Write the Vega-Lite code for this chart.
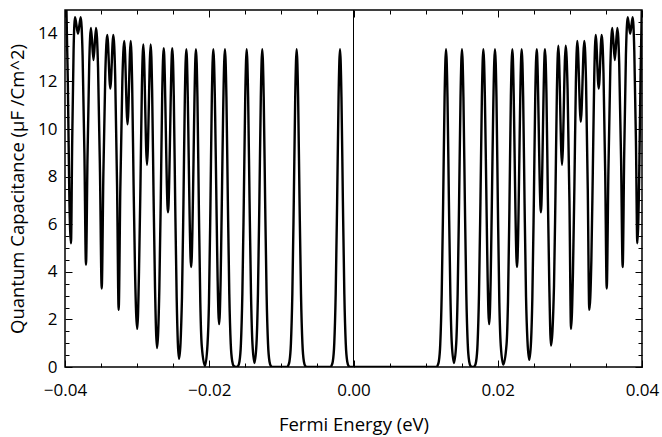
{
  "$schema": "https://vega.github.io/schema/vega-lite/v6.json",
  "width": 577,
  "height": 357,
  "autosize": {"type": "none"},
  "padding": {"left": 65, "top": 10, "right": 20, "bottom": 70},
  "background": "white",
  "config": {
    "view": {"stroke": "black", "strokeWidth": 1.5},
    "axis": {
      "grid": false, "domain": false, "tickColor": "black", "tickWidth": 1,
      "labelColor": "black", "titleColor": "black",
      "labelFont": "Open Sans", "titleFont": "Open Sans",
      "labelFontSize": 17, "titleFontSize": 18.5, "titleFontWeight": "normal",
      "labelFlush": false, "labelOverlap": false
    }
  },
  "data": {"values": [
    {"E":-0.0400,"C":15.8},{"E":-0.0398,"C":15.0},{"E":-0.0396,"C":11.8},{"E":-0.0394,"C":7.2},{"E":-0.03917,"C":5.2},
    {"E":-0.0390,"C":9.5},{"E":-0.03881,"C":13.3},{"E":-0.03861,"C":14.7},{"E":-0.0382,"C":14.0},{"E":-0.03782,"C":14.7},
    {"E":-0.03756,"C":13.1},{"E":-0.03731,"C":9.0},{"E":-0.03709,"C":4.3},
    {"E":-0.03688,"C":8.8},{"E":-0.03664,"C":12.76},{"E":-0.0364,"C":14.25},{"E":-0.03605,"C":12.9},{"E":-0.0357,"C":14.25},
    {"E":-0.03542,"C":12.6},{"E":-0.03515,"C":8.2},{"E":-0.03491,"C":3.3},
    {"E":-0.03468,"C":8.1},{"E":-0.03441,"C":12.35},{"E":-0.03414,"C":13.95},{"E":-0.03372,"C":11.7},{"E":-0.0333,"C":13.95},
    {"E":-0.03304,"C":12.2},{"E":-0.03278,"C":7.6},{"E":-0.03256,"C":2.4},
    {"E":-0.03233,"C":7.5},{"E":-0.03205,"C":12.0},{"E":-0.03178,"C":13.7},{"E":-0.03133,"C":10.2},{"E":-0.03089,"C":13.7},
    {"E":-0.03069,"C":11.9},{"E":-0.03049,"C":7.65},{"E":-0.03029,"C":4.0},{"E":-0.02998,"C":1.6},
    {"E":-0.02974,"C":4.0},{"E":-0.02954,"C":7.6},{"E":-0.02934,"C":11.76},{"E":-0.02914,"C":13.55},{"E":-0.02863,"C":8.5},{"E":-0.02812,"C":13.55},
    {"E":-0.02792,"C":11.64},{"E":-0.02772,"C":7.2},{"E":-0.02752,"C":3.35},{"E":-0.02724,"C":0.8},
    {"E":-0.02692,"C":3.3},{"E":-0.02672,"C":7.1},{"E":-0.02652,"C":11.5},{"E":-0.02632,"C":13.4},{"E":-0.02572,"C":6.5},{"E":-0.02512,"C":13.4},
    {"E":-0.02492,"C":11.44},{"E":-0.02472,"C":6.87},{"E":-0.02452,"C":2.95},{"E":-0.02419,"C":0.34},
    {"E":-0.02378,"C":2.94},{"E":-0.02358,"C":6.84},{"E":-0.02338,"C":11.4},{"E":-0.02318,"C":13.35},{"E":-0.02251,"C":4.2},{"E":-0.02184,"C":13.35},
    {"E":-0.02164,"C":11.36},{"E":-0.02144,"C":6.7},{"E":-0.02124,"C":2.71},{"E":-0.02104,"C":0.9},{"E":-0.02059,"C":0.05},
    {"E":-0.02024,"C":0.95},{"E":-0.02004,"C":2.7},{"E":-0.01984,"C":6.7},{"E":-0.01964,"C":11.36},{"E":-0.01944,"C":13.35},{"E":-0.01863,"C":1.8},{"E":-0.01782,"C":13.35},
    {"E":-0.01762,"C":11.35},{"E":-0.01742,"C":6.95},{"E":-0.01722,"C":3.07},{"E":-0.01702,"C":0.97},{"E":-0.01682,"C":0.25},{"E":-0.01662,"C":0.05},{"E":-0.01631,"C":0.0},
    {"E":-0.01601,"C":0.04},{"E":-0.01581,"C":0.23},{"E":-0.01561,"C":0.97},{"E":-0.01541,"C":3.07},{"E":-0.01521,"C":6.94},{"E":-0.01501,"C":11.35},{"E":-0.01481,"C":13.35},
    {"E":-0.01461,"C":11.35},{"E":-0.01441,"C":6.94},{"E":-0.01421,"C":3.07},{"E":-0.01401,"C":0.98},{"E":-0.01373,"C":0.17},
    {"E":-0.01345,"C":0.98},{"E":-0.01325,"C":3.07},{"E":-0.01305,"C":6.94},{"E":-0.01285,"C":11.35},{"E":-0.01265,"C":13.35},
    {"E":-0.01245,"C":11.35},{"E":-0.01225,"C":6.94},{"E":-0.01205,"C":3.07},{"E":-0.01185,"C":0.97},{"E":-0.01165,"C":0.23},{"E":-0.01145,"C":0.04},{"E":-0.0112,"C":0.0},
    {"E":-0.0092,"C":0.0},{"E":-0.00908,"C":0.04},{"E":-0.00888,"C":0.23},{"E":-0.00868,"C":0.97},{"E":-0.00848,"C":3.07},{"E":-0.00828,"C":6.94},{"E":-0.00808,"C":11.35},{"E":-0.00788,"C":13.35},
    {"E":-0.00768,"C":11.35},{"E":-0.00748,"C":6.94},{"E":-0.00728,"C":3.07},{"E":-0.00708,"C":0.97},{"E":-0.00688,"C":0.23},{"E":-0.00668,"C":0.04},{"E":-0.0064,"C":0.0},
    {"E":-0.0032,"C":0.0},{"E":-0.00307,"C":0.04},{"E":-0.00287,"C":0.23},{"E":-0.00267,"C":0.97},{"E":-0.00247,"C":3.07},{"E":-0.00227,"C":6.94},{"E":-0.00207,"C":11.35},{"E":-0.00187,"C":13.35},
    {"E":-0.00167,"C":11.35},{"E":-0.00147,"C":6.94},{"E":-0.00127,"C":3.07},{"E":-0.00107,"C":0.97},{"E":-0.00087,"C":0.23},{"E":-0.00067,"C":0.04},{"E":-0.0004,"C":0.0},
    {"E":0.0115,"C":0.0},{"E":0.01163,"C":0.04},{"E":0.01183,"C":0.23},{"E":0.01203,"C":0.97},{"E":0.01223,"C":3.07},{"E":0.01243,"C":6.94},{"E":0.01263,"C":11.35},{"E":0.01283,"C":13.35},
    {"E":0.01303,"C":11.35},{"E":0.01323,"C":6.94},{"E":0.01343,"C":3.07},{"E":0.01363,"C":0.98},{"E":0.01393,"C":0.17},
    {"E":0.01424,"C":0.98},{"E":0.01444,"C":3.07},{"E":0.01464,"C":6.94},{"E":0.01484,"C":11.35},{"E":0.01504,"C":13.35},
    {"E":0.01524,"C":11.35},{"E":0.01544,"C":6.94},{"E":0.01564,"C":3.07},{"E":0.01584,"C":0.97},{"E":0.01604,"C":0.23},{"E":0.01624,"C":0.04},{"E":0.01652,"C":0.0},
    {"E":0.0168,"C":0.04},{"E":0.0170,"C":0.23},{"E":0.0172,"C":0.97},{"E":0.0174,"C":3.07},{"E":0.0176,"C":6.94},{"E":0.0178,"C":11.35},{"E":0.0180,"C":13.35},{"E":0.01881,"C":1.8},{"E":0.01962,"C":13.35},
    {"E":0.01982,"C":11.36},{"E":0.02002,"C":6.7},{"E":0.02022,"C":2.7},{"E":0.02042,"C":0.9},{"E":0.02077,"C":0.1},
    {"E":0.02122,"C":0.95},{"E":0.02142,"C":2.75},{"E":0.02162,"C":6.7},{"E":0.02182,"C":11.36},{"E":0.02202,"C":13.35},{"E":0.02267,"C":4.2},{"E":0.02332,"C":13.35},
    {"E":0.02352,"C":11.4},{"E":0.02372,"C":6.85},{"E":0.02392,"C":2.95},{"E":0.02412,"C":1.1},{"E":0.02437,"C":0.3},
    {"E":0.02462,"C":1.1},{"E":0.0248,"C":2.95},{"E":0.0250,"C":6.85},{"E":0.0252,"C":11.4},{"E":0.0254,"C":13.35},{"E":0.02598,"C":6.5},{"E":0.02655,"C":13.35},
    {"E":0.02675,"C":11.5},{"E":0.02695,"C":7.1},{"E":0.02715,"C":3.4},{"E":0.02738,"C":0.9},
    {"E":0.0278,"C":3.4},{"E":0.0280,"C":7.2},{"E":0.0282,"C":11.6},{"E":0.0284,"C":13.5},{"E":0.02891,"C":8.5},{"E":0.02942,"C":13.5},
    {"E":0.02968,"C":11.7},{"E":0.02994,"C":7.0},{"E":0.03016,"C":1.6},
    {"E":0.03043,"C":4.0},{"E":0.03063,"C":7.65},{"E":0.03083,"C":11.9},{"E":0.03103,"C":13.7},{"E":0.03151,"C":10.3},{"E":0.0320,"C":13.7},
    {"E":0.03224,"C":12.0},{"E":0.03248,"C":7.5},{"E":0.03269,"C":2.4},
    {"E":0.03298,"C":4.5},{"E":0.03318,"C":8.2},{"E":0.03338,"C":12.2},{"E":0.03358,"C":13.95},{"E":0.0340,"C":11.7},{"E":0.03441,"C":13.95},
    {"E":0.03466,"C":12.35},{"E":0.0349,"C":8.1},{"E":0.03511,"C":3.3},
    {"E":0.03534,"C":8.2},{"E":0.03561,"C":12.6},{"E":0.03588,"C":14.25},{"E":0.03623,"C":12.9},{"E":0.03658,"C":14.25},
    {"E":0.03684,"C":12.75},{"E":0.0371,"C":8.7},{"E":0.03732,"C":4.2},
    {"E":0.03753,"C":8.9},{"E":0.03777,"C":13.1},{"E":0.03802,"C":14.7},{"E":0.03836,"C":14.0},{"E":0.03871,"C":14.7},
    {"E":0.03893,"C":13.3},{"E":0.03916,"C":9.5},{"E":0.03935,"C":5.2},
    {"E":0.0396,"C":7.8},{"E":0.0398,"C":12.2},{"E":0.0400,"C":15.6}
  ]},
  "layer": [
    {
      "mark": {"type": "line", "color": "black", "strokeWidth": 2.4, "interpolate": "monotone", "clip": true},
      "encoding": {
        "x": {"field": "E", "type": "quantitative",
          "scale": {"domain": [-0.04, 0.04], "nice": false, "zero": false},
          "axis": {"orient": "bottom", "values": [-0.04, -0.02, 0, 0.02, 0.04], "format": ".2f",
            "tickSize": -7, "labelPadding": 22, "title": "Fermi Energy (eV)", "titlePadding": 17}},
        "y": {"field": "C", "type": "quantitative",
          "scale": {"domain": [0, 15], "nice": false, "zero": false},
          "axis": {"orient": "left", "values": [0, 2, 4, 6, 8, 10, 12, 14], "format": "d",
            "tickSize": -7, "labelPadding": 15, "title": "Quantum Capacitance (μF /Cm^2)", "titlePadding": 10}}
      }
    },
    {
      "data": {"values": [{}]},
      "mark": {"type": "point", "opacity": 0},
      "encoding": {
        "x": {"datum": 0, "type": "quantitative",
          "axis": {"orient": "bottom", "values": [-0.035, -0.03, -0.025, -0.015, -0.01, -0.005, 0.005, 0.01, 0.015, 0.025, 0.03, 0.035],
            "tickSize": -4, "labels": false, "title": null}},
        "y": {"datum": 0, "type": "quantitative",
          "axis": {"orient": "left", "values": [0.5, 1, 1.5, 2.5, 3, 3.5, 4.5, 5, 5.5, 6.5, 7, 7.5, 8.5, 9, 9.5, 10.5, 11, 11.5, 12.5, 13, 13.5, 14.5],
            "tickSize": -4, "labels": false, "title": null}}
      }
    },
    {
      "data": {"values": [{}]},
      "mark": {"type": "point", "opacity": 0},
      "encoding": {
        "x": {"datum": 0, "type": "quantitative",
          "axis": {"orient": "top", "values": [-0.04, -0.02, 0, 0.02, 0.04], "tickSize": -7, "labels": false, "title": null}},
        "y": {"datum": 0, "type": "quantitative",
          "axis": {"orient": "right", "values": [0, 2, 4, 6, 8, 10, 12, 14], "tickSize": -7, "labels": false, "title": null}}
      }
    },
    {
      "data": {"values": [{}]},
      "mark": {"type": "point", "opacity": 0},
      "encoding": {
        "x": {"datum": 0, "type": "quantitative",
          "axis": {"orient": "top", "values": [-0.035, -0.03, -0.025, -0.015, -0.01, -0.005, 0.005, 0.01, 0.015, 0.025, 0.03, 0.035],
            "tickSize": -4, "labels": false, "title": null}},
        "y": {"datum": 0, "type": "quantitative",
          "axis": {"orient": "right", "values": [0.5, 1, 1.5, 2.5, 3, 3.5, 4.5, 5, 5.5, 6.5, 7, 7.5, 8.5, 9, 9.5, 10.5, 11, 11.5, 12.5, 13, 13.5, 14.5],
            "tickSize": -4, "labels": false, "title": null}}
      }
    },
    {
      "data": {"values": [{}]},
      "mark": {"type": "rule", "color": "black", "strokeWidth": 1},
      "encoding": {"x": {"datum": 0, "type": "quantitative", "axis": null}}
    }
  ],
  "resolve": {"axis": {"x": "independent", "y": "independent"}}
}
